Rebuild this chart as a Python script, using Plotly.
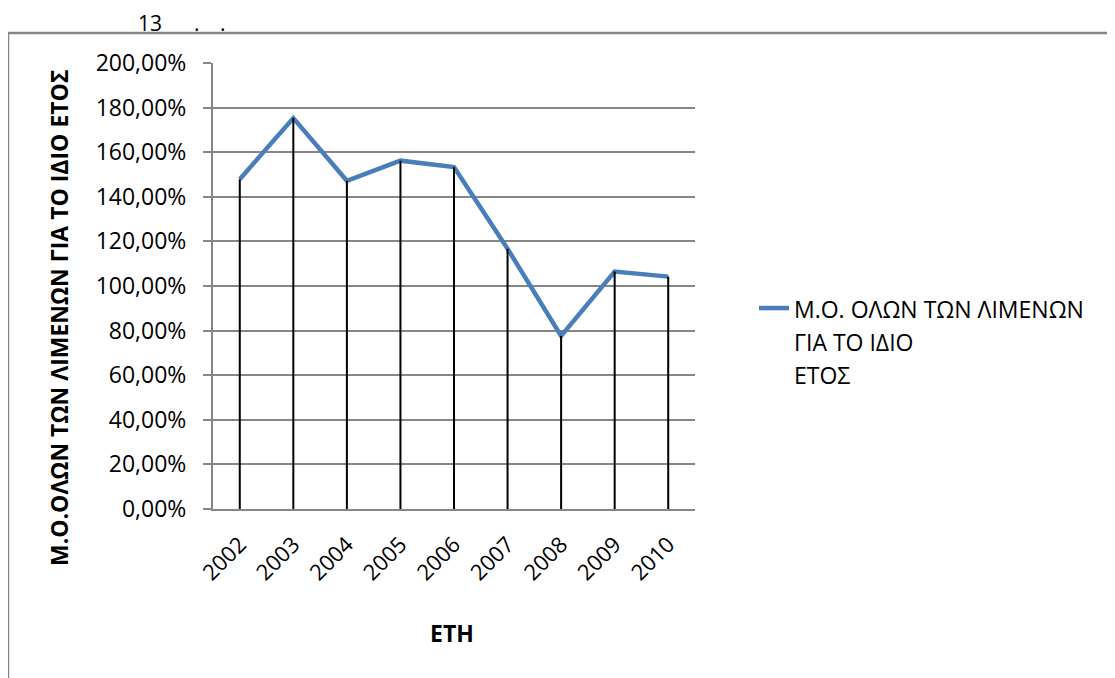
import plotly.graph_objects as go

years = ["2002", "2003", "2004", "2005", "2006", "2007", "2008", "2009", "2010"]
values = [1.479, 1.753, 1.472, 1.562, 1.533, 1.167, 0.776, 1.065, 1.042]
legend_lines = ["Μ.Ο. ΟΛΩΝ ΤΩΝ ΛΙΜΕΝΩΝ", "ΓΙΑ ΤΟ ΙΔΙΟ", "ΕΤΟΣ"]
y_title = "Μ.Ο.ΟΛΩΝ ΤΩΝ ΛΙΜΕΝΩΝ ΓΙΑ ΤΟ ΙΔΙΟ ΕΤΟΣ"
x_title = "ΕΤΗ"
header_texts = ["13", ".", "."]

OFF = 8  # page body margin
W, H = 1115 - OFF, 678 - OFF
# plot area in screenshot pixels
L, R, T, B = 213, 695, 63, 509
FONT = "Open Sans"
FS = 23


def px(x):
    return (x - L) / (R - L)


def py(y):
    return (B - y) / (B - T)


legend_text = "<br>".join(
    '<span style="font-size:%dpx">%s</span>' % (FS, s) for s in legend_lines)

fig = go.Figure()

fig.add_trace(go.Scatter(
    x=years, y=values, mode="lines", name=legend_text,
    line=dict(color="#4A7EBB", width=4.5),
    showlegend=True,
))

# drop lines from each point to the axis
drop_x, drop_y = [], []
for yr, v in zip(years, values):
    drop_x += [yr, yr, None]
    drop_y += [v, 0, None]
fig.add_trace(go.Scatter(
    x=drop_x, y=drop_y, mode="lines", line=dict(color="black", width=2),
    showlegend=False, hoverinfo="skip",
))

fig.update_layout(
    width=W, height=H,
    margin=dict(l=L - OFF, r=W - (R - OFF), t=T - OFF, b=H - (B - OFF), pad=0),
    paper_bgcolor="white", plot_bgcolor="white",
    separators=",.",
    font=dict(family=FONT, size=FS, color="black"),
    showlegend=True,
    legend=dict(
        x=px(754), y=py(285), xanchor="left", yanchor="top", valign="top",
        font=dict(family=FONT, size=25.5, color="black"),
        bgcolor="rgba(0,0,0,0)", borderwidth=0,
    ),
    xaxis=dict(
        type="category", range=[-0.5, len(years) - 0.5],
        showgrid=False, showline=True, linecolor="#868686", linewidth=2,
        ticks="", tickangle=-45, ticklabelstandoff=12,
        tickfont=dict(family=FONT, size=22, color="black"),
        zeroline=False, fixedrange=True,
    ),
    yaxis=dict(
        range=[0, 2], dtick=0.2, tick0=0, tickformat=".2%",
        showgrid=True, gridcolor="#868686", gridwidth=1.5,
        showline=True, linecolor="#868686", linewidth=2,
        ticks="outside", ticklen=8, tickcolor="#868686", tickwidth=1.5,
        ticklabelstandoff=12,
        tickfont=dict(family=FONT, size=FS, color="black"),
        zeroline=False, fixedrange=True,
    ),
)

annotations = [
    dict(text="<b>" + y_title + "</b>", x=px(59), y=py(318), textangle=-90,
         font=dict(family=FONT, size=FS, color="black")),
    dict(text="<b>" + x_title + "</b>", x=px(452), y=py(633),
         font=dict(family=FONT, size=FS, color="black")),
]
for txt, xc in zip(header_texts, [150, 197, 223]):
    annotations.append(dict(text=txt, x=px(xc), y=py(8), yanchor="top", borderpad=0,
                            font=dict(family=FONT, size=21, color="black")))
for a in annotations:
    a.setdefault("yanchor", "middle")
    a.update(xref="paper", yref="paper", showarrow=False, xanchor="center")
fig.update_layout(annotations=annotations)

fig.add_shape(type="rect", xref="paper", yref="paper",
              x0=px(8), x1=px(1140), y0=py(700), y1=py(33),
              line=dict(color="#868686", width=2.5), fillcolor="rgba(0,0,0,0)", layer="below")

fig.write_html("out.html")
